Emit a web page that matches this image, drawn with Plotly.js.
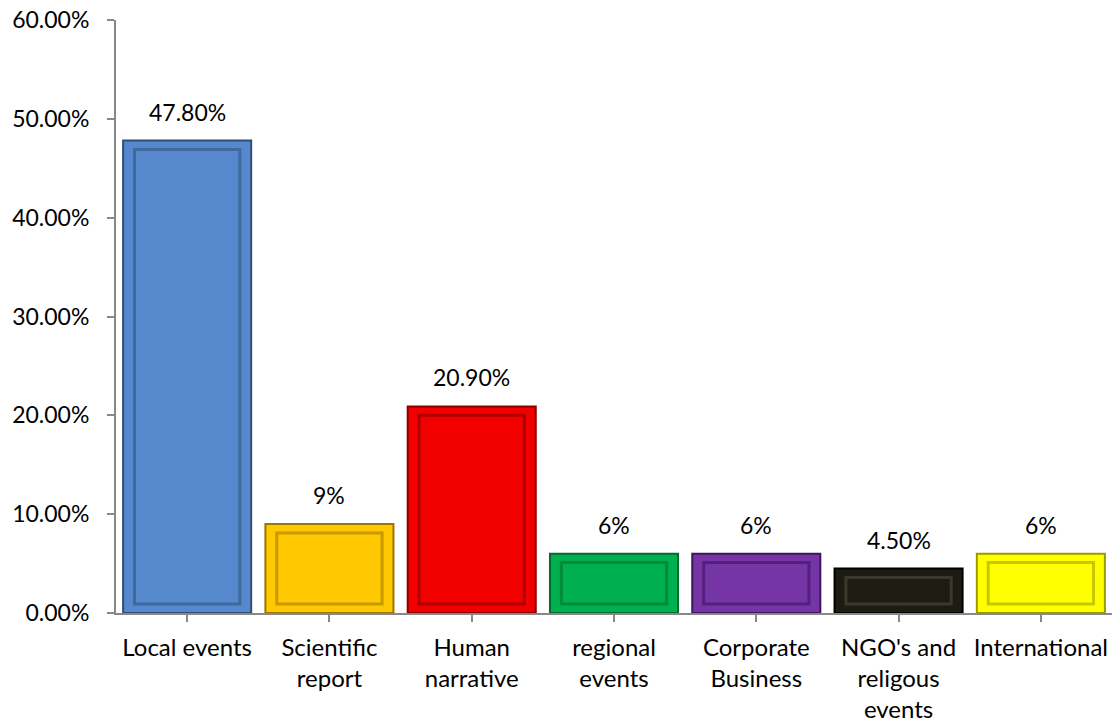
<!DOCTYPE html>
<html><head><meta charset="utf-8">
<script src="https://cdn.plot.ly/plotly-3.0.1.min.js"></script>
<style>html,body{margin:0;padding:0;background:#fff}#chart{width:1114px;height:726px}</style>
</head><body><div id="chart"></div>
<script>
var categories = ["Local events", "Scientific<br>report", "Human<br>narrative", "regional<br>events", "Corporate<br>Business", "NGO's and<br>religous<br>events", "International"];
var values = [47.8, 9, 20.9, 6, 6, 4.5, 6];
var valueLabels = ["47.80%", "9%", "20.90%", "6%", "6%", "4.50%", "6%"];
var colors = ["#5588CC", "#FFC800", "#F20000", "#00B050", "#7535A5", "#1E1C12", "#FFFF00"];
var edgeColors = ["#2F4F78", "#9A7800", "#8A0000", "#006B2E", "#3E1660", "#000000", "#9A9A00"];
var innerEdge = ["#3F6A9E", "#C89A00", "#B00000", "#008A3C", "#532080", "#3A382A", "#C8C800"];

var xs = categories.map(function(c, i){ return i; });

var trace = {
  type: 'bar', x: xs, y: values,
  marker: {color: colors, line: {color: edgeColors, width: 2}},
  width: 0.9, hoverinfo: 'skip'
};

var shapes = [];
values.forEach(function(v, i){
  shapes.push({type:'rect', xref:'x', yref:'y', x0: i-0.37, x1: i+0.37, y0: 0.9, y1: v-0.9,
    line:{color: innerEdge[i], width: 3}, fillcolor: 'rgba(0,0,0,0)', layer:'above'});
});

var annotations = values.map(function(v, i){
  return {x: i, y: v, xref:'x', yref:'y', text: valueLabels[i], showarrow:false,
    yanchor:'bottom', yshift: 13, font:{family:'Lato, "Open Sans", sans-serif', size:23, color:'#000'}};
});

var layout = {
  width: 1114, height: 726,
  margin: {l: 116, r: 2, t: 20, b: 113},
  paper_bgcolor: '#fff', plot_bgcolor: '#fff',
  showlegend: false,
  font: {family: 'Lato, "Open Sans", sans-serif', size: 23, color: '#000'},
  xaxis: {
    tickmode: 'array', tickvals: xs, ticktext: categories,
    range: [-0.5, 6.5], showgrid: false, zeroline: false,
    showline: true, linecolor: '#888', linewidth: 2,
    ticks: 'outside', ticklen: 7, tickcolor: '#888', tickwidth: 2, tickson: 'boundaries',
    ticklabelstandoff: 5,
    tickfont: {size: 24, color: '#000'}
  },
  yaxis: {
    range: [0, 60], dtick: 10, tickformat: '.2f', ticksuffix: '%',
    showgrid: false, zeroline: false,
    showline: true, linecolor: '#888', linewidth: 2,
    ticks: 'outside', ticklen: 7, tickcolor: '#888', tickwidth: 2,
    ticklabelstandoff: 13,
    tickfont: {size: 23, color: '#000'}
  },
  shapes: shapes,
  annotations: annotations,
  bargap: 0.1
};

Plotly.newPlot('chart', [trace], layout, {displayModeBar: false, staticPlot: true});
</script></body></html>
